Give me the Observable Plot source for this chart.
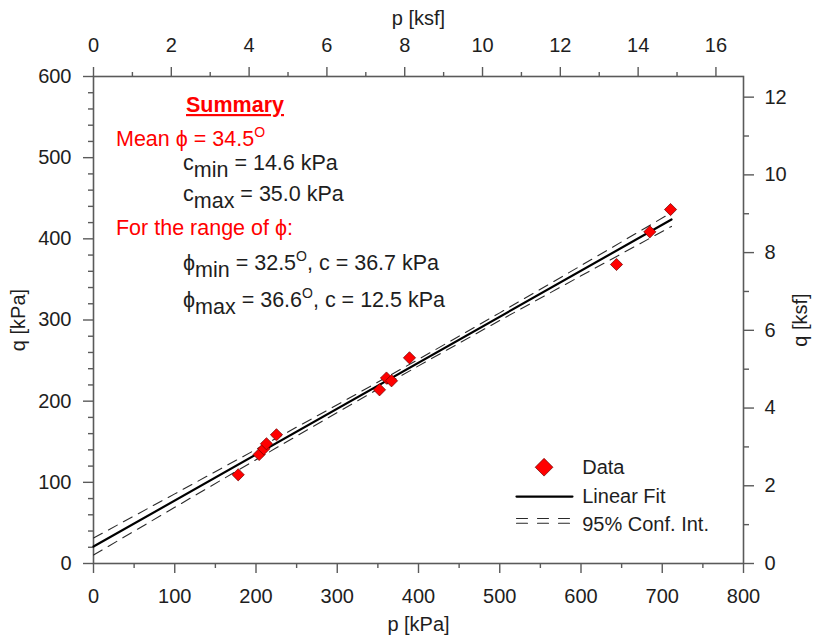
<!DOCTYPE html>
<html>
<head>
<meta charset="utf-8">
<script src="https://cdn.jsdelivr.net/npm/d3@7"></script>
<script src="https://cdn.jsdelivr.net/npm/@observablehq/plot@0.6"></script>
<style>
  body { margin: 0; background: #fff; }
  #chart svg { display: block; }
</style>
</head>
<body>
<div id="chart"></div>
<script>
// ---------- data ----------
const KSF = 47.88; // kPa per ksf

const dataP = [178.1, 203.9, 209.6, 212.9, 225.2, 352.0, 360.6, 366.8, 388.9, 643.7, 684.7, 710.2];
const dataQ = [109.3, 134.3, 141.3, 147.5, 158.6, 214.0, 228.5, 225.1, 253.4, 368.4, 408.6, 436.1];

const fitP = [0, 711.4];
const fitQ = [20.9, 423.8];

const ciP     = [0,    100,  200,   300,   400,   500,   600,   711.4];
const ciUpper = [31.4, 85.8, 140.5, 195.5, 251.5, 308.8, 367.0, 432.3];
const ciLower = [10.4, 69.2, 127.9, 186.1, 243.5, 299.4, 354.4, 415.3];

const pTicks = [0, 100, 200, 300, 400, 500, 600, 700, 800];
const pMinor = [50, 150, 250, 350, 450, 550, 650, 750];
const qTicks = [0, 100, 200, 300, 400, 500, 600];
const qMinor = [20, 40, 60, 80, 120, 140, 160, 180, 220, 240, 260, 280, 320, 340, 360, 380, 420, 440, 460, 480, 520, 540, 560, 580];
const ksfXTicks = [0, 2, 4, 6, 8, 10, 12, 14, 16];
const ksfXMinor = [1, 3, 5, 7, 9, 11, 13, 15];
const ksfYTicks = [0, 2, 4, 6, 8, 10, 12];
const ksfYMinor = [1, 3, 5, 7, 9, 11];

const legendLabels = ["Data", "Linear Fit", "95% Conf. Int."];

// Summary text pieces: [text, kind]
const summaryTitle = "Summary";
const summaryLine1 = [["Mean \u03D5 = 34.5", ""], ["O", "sup"]];
const summaryLine2 = [["c", ""], ["min", "sub"], [" = 14.6 kPa", ""]];
const summaryLine3 = [["c", ""], ["max", "sub"], [" = 35.0 kPa", ""]];
const summaryLine4 = [["For the range of \u03D5:", ""]];
const summaryLine5 = [["\u03D5", ""], ["min", "sub"], [" = 32.5", ""], ["O", "sup"], [", c = 36.7 kPa", ""]];
const summaryLine6 = [["\u03D5", ""], ["max", "sub"], [" = 36.6", ""], ["O", "sup"], [", c = 12.5 kPa", ""]];

// ---------- styling / layout ----------
const FONT = "'Liberation Sans', Arial, Helvetica, sans-serif";
const AXIS = "#5a5a5a";
const RED = "#ff0000";
const DARK = "#1e1e1e";

const points = dataP.map((p, i) => ({p, q: dataQ[i]}));
const fit = fitP.map((p, i) => ({p, q: fitQ[i]}));
const upper = ciP.map((p, i) => ({p, q: ciUpper[i]}));
const lower = ciP.map((p, i) => ({p, q: ciLower[i]}));

// legend anchor positions (data coordinates)
const legX0 = 520.6, legX1 = 589.5, legTextX = 601.5;
const legRowQ = [118.6, 82.5, 48];

const axisCommon = {stroke: AXIS, strokeWidth: 1.4, label: null, fontSize: 20, fill: DARK};

const plot = Plot.plot({
  width: 819,
  height: 635,
  marginLeft: 93,
  marginRight: 76,
  marginTop: 76,
  marginBottom: 72,
  x: {domain: [0, 800]},
  y: {domain: [0, 600]},
  style: {fontFamily: FONT, fontSize: "20px", color: DARK, background: "#fff"},
  marks: [
    // axes (bottom / left in kPa)
    Plot.axisX({...axisCommon, anchor: "bottom", ticks: pTicks, tickSize: 10, tickPadding: 15, tickFormat: d => String(d)}),
    Plot.axisX({...axisCommon, anchor: "bottom", ticks: pMinor, tickSize: 5, tickFormat: () => ""}),
    Plot.axisY({...axisCommon, anchor: "left", ticks: qTicks, tickSize: 10, tickPadding: 12, tickFormat: d => String(d)}),
    Plot.axisY({...axisCommon, anchor: "left", ticks: qMinor, tickSize: 5, tickFormat: () => ""}),
    // secondary axes (top / right in ksf)
    Plot.axisX({...axisCommon, anchor: "top", ticks: ksfXTicks.map(k => k * KSF), tickSize: 10, tickPadding: 15, tickFormat: d => String(Math.round(d / KSF))}),
    Plot.axisX({...axisCommon, anchor: "top", ticks: ksfXMinor.map(k => k * KSF), tickSize: 5, tickFormat: () => ""}),
    Plot.axisY({...axisCommon, anchor: "right", ticks: ksfYTicks.map(k => k * KSF), tickSize: 10, tickPadding: 11, tickFormat: d => String(Math.round(d / KSF))}),
    Plot.axisY({...axisCommon, anchor: "right", ticks: ksfYMinor.map(k => k * KSF), tickSize: 5, tickFormat: () => ""}),
    Plot.frame({stroke: AXIS, strokeWidth: 1.6}),

    // axis titles
    Plot.text(["p [kPa]"], {text: d => d, frameAnchor: "bottom", lineAnchor: "middle", dy: 61, fontSize: 20, fill: DARK}),
    Plot.text(["p [ksf]"], {text: d => d, frameAnchor: "top", lineAnchor: "middle", dy: -58, fontSize: 20, fill: DARK}),
    Plot.text(["q [kPa]"], {text: d => d, frameAnchor: "left", lineAnchor: "middle", textAnchor: "middle", dx: -75, rotate: -90, fontSize: 20, fill: DARK}),
    Plot.text(["q [ksf]"], {text: d => d, frameAnchor: "right", lineAnchor: "middle", textAnchor: "middle", dx: 57, rotate: -90, fontSize: 20, fill: DARK}),

    // confidence interval & fit
    Plot.line(upper, {x: "p", y: "q", stroke: "#2a2a2a", strokeWidth: 1.1, strokeDasharray: "10,7"}),
    Plot.line(lower, {x: "p", y: "q", stroke: "#2a2a2a", strokeWidth: 1.1, strokeDasharray: "10,7"}),
    Plot.line(fit, {x: "p", y: "q", stroke: "#000", strokeWidth: 2.2}),

    // data
    Plot.dot(points, {x: "p", y: "q", symbol: "diamond2", r: 5.5, fill: RED, stroke: "#6a0000", strokeWidth: 0.7}),

    // legend
    Plot.dot([{p: (legX0 + legX1) / 2 - 0.5, q: legRowQ[0]}], {x: "p", y: "q", symbol: "diamond2", r: 8, fill: RED, stroke: "#6a0000", strokeWidth: 0.7}),
    Plot.line([{p: legX0, q: legRowQ[1]}, {p: legX1, q: legRowQ[1]}], {x: "p", y: "q", stroke: "#000", strokeWidth: 2.2}),
    Plot.line([{p: legX0, q: legRowQ[2] + 7.5}, {p: legX1, q: legRowQ[2] + 7.5}], {x: "p", y: "q", stroke: "#2a2a2a", strokeWidth: 1.1, strokeDasharray: "11,10"}),
    Plot.line([{p: legX0, q: legRowQ[2] + 1.5}, {p: legX1, q: legRowQ[2] + 1.5}], {x: "p", y: "q", stroke: "#2a2a2a", strokeWidth: 1.1, strokeDasharray: "11,10"}),
    Plot.text(legendLabels, {text: d => d, x: () => legTextX, y: (d, i) => legRowQ[i], textAnchor: "start", fontSize: 20, fill: DARK})
  ]
});

document.getElementById("chart").appendChild(plot);

// ---------- summary annotation (rich text with sub/superscripts) ----------
const xs = plot.scale("x"), ys = plot.scale("y");
const svg = d3.select(plot);
const g = svg.append("g")
  .attr("font-family", FONT)
  .attr("font-size", 21.5)
  .attr("text-anchor", "start")
  .style("text-anchor", "start");

// Title
g.append("text")
  .attr("x", xs.apply(174.8)).attr("y", ys.apply(555.6))
  .attr("text-anchor", "middle")
  .style("text-anchor", "middle")
  .attr("fill", RED)
  .attr("font-weight", "bold")
  .attr("text-decoration", "underline")
  .text(summaryTitle);

const rich = [
  {parts: summaryLine1, p: 28.3, q: 513.7, color: RED},
  {parts: summaryLine2, p: 110.8, q: 484.2, color: DARK},
  {parts: summaryLine3, p: 110.8, q: 446.0, color: DARK},
  {parts: summaryLine4, p: 28.3, q: 404.1, color: RED},
  {parts: summaryLine5, p: 110.8, q: 361.0, color: DARK},
  {parts: summaryLine6, p: 110.8, q: 316.0, color: DARK}
];

for (const line of rich) {
  const t = g.append("text")
    .attr("x", xs.apply(line.p)).attr("y", ys.apply(line.q))
    .attr("text-anchor", "start")
    .style("text-anchor", "start")
    .attr("fill", line.color)
    .attr("textLength", null);
  let shift = 0;
  for (const [str, kind] of line.parts) {
    const target = kind === "sup" ? -9 : kind === "sub" ? 7 : 0;
    const ts = t.append("tspan").attr("dy", target - shift).text(str);
    if (kind === "sup") ts.attr("font-size", 14);
    shift = target;
  }
}
</script>
</body>
</html>
